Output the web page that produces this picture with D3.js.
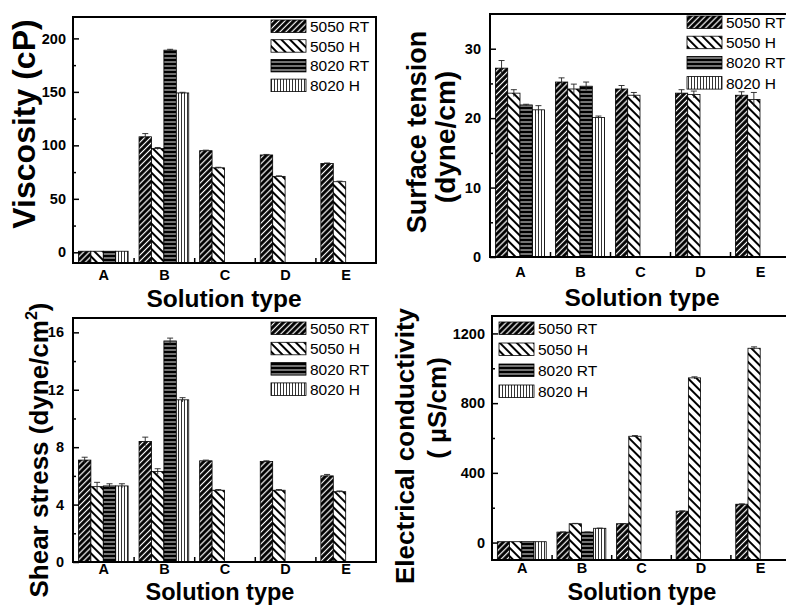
<!DOCTYPE html>
<html>
<head>
<meta charset="utf-8">
<script src="https://cdn.jsdelivr.net/npm/d3@7"></script>
<style>
body { margin: 0; background: #fff; }
text { font-family: "Liberation Sans", Arial, sans-serif; }
</style>
</head>
<body>
<div id="display"></div>
<script>
let w = 786;
let h = 605;

const categories = ['A', 'B', 'C', 'D', 'E'];
const seriesNames = ['5050 RT', '5050 H', '8020 RT', '8020 H'];

// viscosity (cP) - one row per series, null = not measured
const viscosity = [
    [1, 108, 95, 91, 83],
    [1, 97, 79, 71, 66],
    [1, 189, null, null, null],
    [1, 149, null, null, null]
];
const viscosityErr = [
    [0, 3, 0.5, 0.5, 0.5],
    [0, 1, 0.5, 0.5, 0.5],
    [0, 0.8, null, null, null],
    [0, 0.6, null, null, null]
];

// surface tension (dyne/cm)
const tension = [
    [27.2, 25.2, 24.2, 23.6, 23.3],
    [23.6, 24.2, 23.3, 23.4, 22.7],
    [21.9, 24.6, null, null, null],
    [21.2, 20.1, null, null, null]
];
const tensionErr = [
    [1.1, 0.6, 0.5, 0.5, 0.5],
    [0.5, 0.7, 0.4, 0.5, 1.0],
    [0.1, 0.6, null, null, null],
    [0.6, 0.2, null, null, null]
];

// shear stress (dyne/cm2)
const shear = [
    [7.1, 8.4, 7.05, 7.0, 6.0],
    [5.25, 6.3, 5.0, 5.0, 4.9],
    [5.3, 15.4, null, null, null],
    [5.3, 11.3, null, null, null]
];
const shearErr = [
    [0.2, 0.3, 0.05, 0.05, 0.1],
    [0.3, 0.2, 0.05, 0.05, 0.05],
    [0.15, 0.2, null, null, null],
    [0.15, 0.15, null, null, null]
];

// electrical conductivity (uS/cm)
const conductivity = [
    [5, 60, 108, 180, 220],
    [5, 108, 610, 945, 1115],
    [5, 60, null, null, null],
    [5, 82, null, null, null]
];
const conductivityErr = [
    [0, 1, 1, 2, 2],
    [0, 2, 4, 6, 8],
    [0, 1, null, null, null],
    [0, 1, null, null, null]
];

let viz = d3.select('#display')
            .append('svg')
                .attr('width', w)
                .attr('height', h)
                .style('background-color', 'white');

let defs = viz.append('defs');
function hatch(id, size, bg, fg, lw, angle) {
    let p = defs.append('pattern')
        .attr('id', id)
        .attr('patternUnits', 'userSpaceOnUse')
        .attr('width', size)
        .attr('height', size)
        .attr('patternTransform', 'rotate(' + angle + ')');
    p.append('rect').attr('width', size).attr('height', size).attr('fill', bg);
    p.append('line')
        .attr('x1', size / 2).attr('y1', -1)
        .attr('x2', size / 2).attr('y2', size + 1)
        .attr('stroke', fg).attr('stroke-width', lw);
}
hatch('pat0', 4.2, '#000', '#fff', 1.2, 45);   // 5050 RT  dark "/"
hatch('pat1', 6, '#fff', '#000', 2, -45);      // 5050 H   "\"
hatch('pat2', 4, '#000', '#fff', 0.9, 90);     // 8020 RT  horizontal
hatch('pat3', 3, '#fff', '#000', 0.8, 0);      // 8020 H   vertical

function panel(o) {
    let g = viz.append('g');
    let x = d3.scaleLinear().domain([-0.5, 4.5]).range([o.left, o.right]);
    let y = d3.scaleLinear().domain(o.yDomain).range([o.bottom, o.top]);
    let bw = (x(1) - x(0)) * 0.205;

    o.values.forEach((vals, s) => {
        let rows = vals.map((v, i) => ({ v: v, i: i, e: o.errors[s][i] }))
                       .filter((d) => d.v !== null);
        g.selectAll(null).data(rows).enter().append('rect')
            .attr('x', (d) => x(d.i) + (s - 2) * bw)
            .attr('y', (d) => y(d.v))
            .attr('width', bw)
            .attr('height', (d) => y(o.yDomain[0]) - y(d.v))
            .attr('fill', 'url(#pat' + s + ')')
            .attr('stroke', '#000')
            .attr('stroke-width', 0.8);
        let eb = g.selectAll(null).data(rows.filter((d) => d.e > 0)).enter().append('g')
            .attr('stroke', '#222').attr('stroke-width', 0.9);
        eb.append('line')
            .attr('x1', (d) => x(d.i) + (s - 1.5) * bw).attr('x2', (d) => x(d.i) + (s - 1.5) * bw)
            .attr('y1', (d) => y(d.v - d.e)).attr('y2', (d) => y(d.v + d.e));
        eb.append('line')
            .attr('x1', (d) => x(d.i) + (s - 1.5) * bw - 3).attr('x2', (d) => x(d.i) + (s - 1.5) * bw + 3)
            .attr('y1', (d) => y(d.v + d.e)).attr('y2', (d) => y(d.v + d.e));
    });

    // y axis, ticks inside
    let yAxis = d3.axisLeft(y).tickValues(o.major).tickFormat(d3.format('d'))
        .tickSizeInner(-6).tickSizeOuter(0).tickPadding(o.yPad);
    let ya = g.append('g')
        .attr('transform', 'translate(' + o.left + ',0)')
        .call(yAxis);
    let yMinor = d3.axisLeft(y).tickValues(o.minor).tickSizeInner(-3).tickSizeOuter(0).tickFormat('');
    let ym = g.append('g')
        .attr('transform', 'translate(' + o.left + ',0)')
        .call(yMinor);

    let xAxis = d3.axisBottom(x).tickValues([0, 1, 2, 3, 4])
        .tickFormat((i) => categories[i]).tickSize(0).tickPadding(o.xPad);
    let xa = g.append('g')
        .attr('transform', 'translate(0,' + o.bottom + ')')
        .call(xAxis);
    let xTicks = d3.axisBottom(x).tickValues([0.5, 1.5, 2.5, 3.5]).tickSizeInner(-5).tickSizeOuter(0).tickFormat('');
    let xt = g.append('g')
        .attr('transform', 'translate(0,' + o.bottom + ')')
        .call(xTicks);

    [ya, ym, xa, xt].forEach((a) => {
        a.select('.domain').remove();
        a.selectAll('line').attr('stroke', '#000').attr('stroke-width', 1.5);
        a.selectAll('text')
            .attr('font-family', '"Liberation Sans", Arial, sans-serif')
            .attr('font-weight', 'bold')
            .attr('font-size', 14.5)
            .attr('fill', '#000');
    });

    g.append('rect')
        .attr('x', o.left).attr('y', o.top)
        .attr('width', o.right - o.left).attr('height', o.bottom - o.top)
        .attr('fill', 'none').attr('stroke', '#000').attr('stroke-width', 2);

    // legend
    seriesNames.forEach((name, s) => {
        let ly = o.legY + s * o.legStep;
        g.append('rect')
            .attr('x', o.legX).attr('y', ly)
            .attr('width', 35).attr('height', 12.5)
            .attr('fill', 'url(#pat' + s + ')')
            .attr('stroke', '#000').attr('stroke-width', 0.8);
        g.append('text')
            .attr('x', o.legX + 39).attr('y', ly + 12)
            .attr('font-size', 15.5)
            .text(name);
    });

    // x title
    g.append('text')
        .attr('x', o.xTitleX).attr('y', o.xTitleY)
        .attr('text-anchor', 'middle')
        .attr('font-weight', 'bold').attr('font-size', o.xTitleSize)
        .text('Solution type');

    // y title lines
    o.yTitle.forEach((t) => {
        let tx = g.append('text')
            .attr('transform', 'translate(' + t.x + ',' + t.y + ') rotate(-90)')
            .attr('text-anchor', 'middle')
            .attr('font-weight', 'bold').attr('font-size', t.size);
        if (t.sup) {
            tx.append('tspan').text(t.text);
            tx.append('tspan').attr('dy', -11).attr('font-size', t.size * 0.62).text(t.sup);
            tx.append('tspan').attr('dy', 11).text(')');
        } else {
            tx.text(t.text);
        }
    });
}

panel({
    left: 73, right: 376, top: 17, bottom: 263,
    yDomain: [-10, 220], major: [0, 50, 100, 150, 200], minor: d3.range(25, 220, 50),
    values: viscosity, errors: viscosityErr,
    yPad: 7, xPad: 7,
    legX: 271, legY: 20, legStep: 19.7,
    xTitleX: 224, xTitleY: 307, xTitleSize: 24.5,
    yTitle: [{ text: 'Viscosity (cP)', x: 35, y: 124, size: 32 }]
});

panel({
    left: 490, right: 790, top: 14, bottom: 257,
    yDomain: [0, 35], major: [0, 10, 20, 30], minor: [5, 15, 25],
    values: tension, errors: tensionErr,
    yPad: 9, xPad: 10,
    legX: 687, legY: 16, legStep: 20.2,
    xTitleX: 642, xTitleY: 306, xTitleSize: 24.5,
    yTitle: [{ text: 'Surface tension', x: 426, y: 132, size: 27 },
             { text: '(dyne/cm)', x: 455, y: 137, size: 28 }]
});

panel({
    left: 73, right: 376, top: 318, bottom: 562,
    yDomain: [0, 17], major: [0, 4, 8, 12, 16], minor: [2, 6, 10, 14],
    values: shear, errors: shearErr,
    yPad: 9, xPad: 2,
    legX: 271, legY: 322, legStep: 20.3,
    xTitleX: 220, xTitleY: 599.5, xTitleSize: 23.5,
    yTitle: [{ text: 'Shear stress (dyne/cm', sup: '2', x: 48, y: 450, size: 26 }]
});

panel({
    left: 492, right: 790, top: 316, bottom: 560,
    yDomain: [-100, 1300], major: [0, 400, 800, 1200], minor: [200, 600, 1000],
    values: conductivity, errors: conductivityErr,
    yPad: 7, xPad: 3,
    legX: 499, legY: 322, legStep: 21,
    xTitleX: 642, xTitleY: 599.5, xTitleSize: 23.5,
    yTitle: [{ text: 'Electrical conductivity', x: 414, y: 446, size: 26 },
             { text: '( \u00b5S/cm)', x: 446, y: 408, size: 26 }]
});
</script>
</body>
</html>
